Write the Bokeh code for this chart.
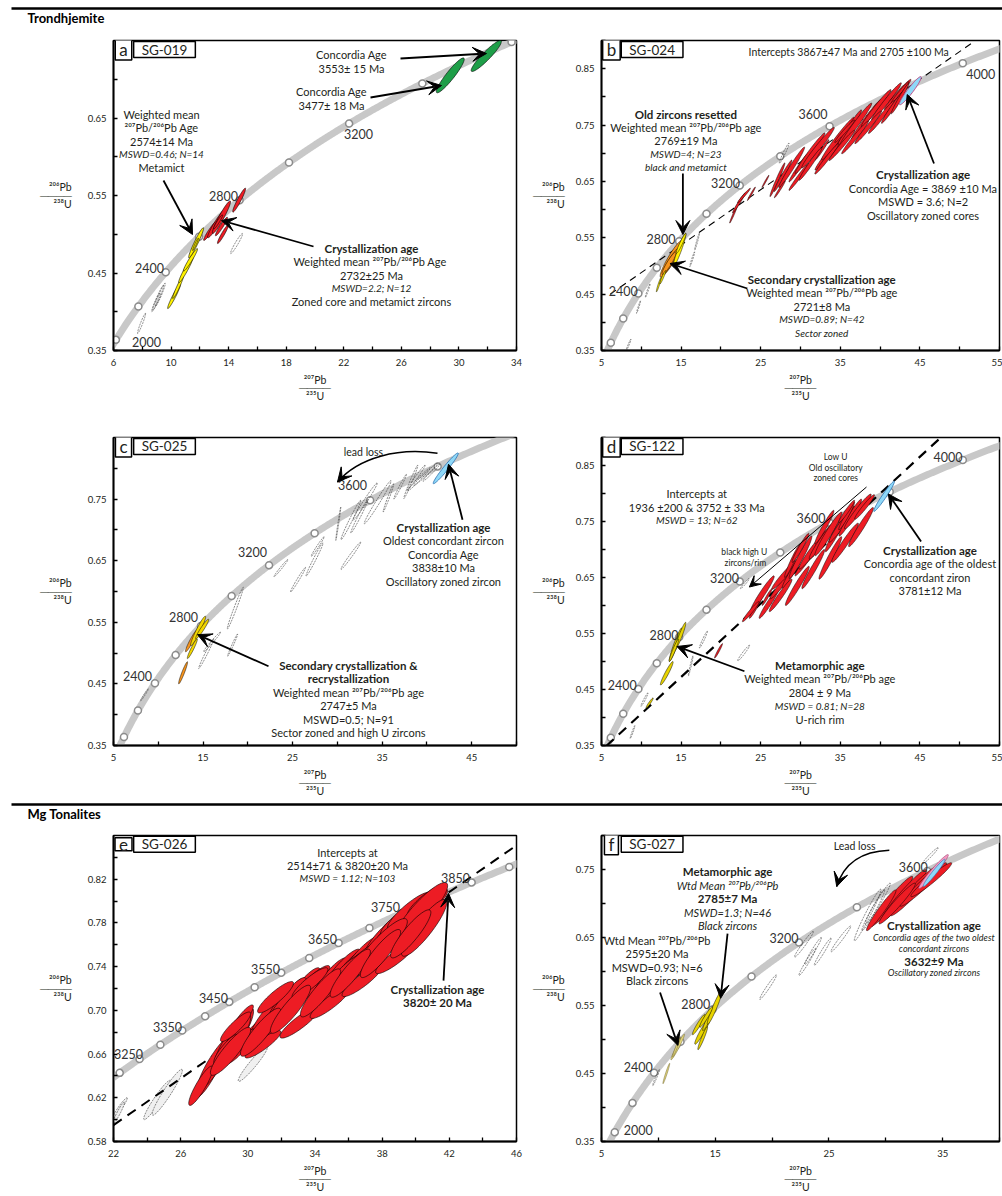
import numpy as np
from bokeh.plotting import figure
from bokeh.layouts import column, row
from bokeh.models import Label, Arrow, VeeHead, Range1d, FixedTicker, PrintfTickFormatter
from bokeh.embed import file_html
from bokeh.resources import INLINE

FONT = "Lato"
TXT = "#231f20"

# U decay constants (1/Ma) used for the concordia reference curve
L238 = 1.55125e-4
L235 = 9.8485e-4

# ---------------- panel a : SG-019 ----------------
A_MARK_AGES = [2000, 2200, 2400, 2600, 2800, 3000, 3200, 3400, 3600]
A_YELLOW = [(10.21, 0.420, 0.45, 0.016), (10.49, 0.432, 0.38, 0.015), (11.05, 0.455, 0.52, 0.0175),
            (11.35, 0.467, 0.49, 0.0145), (11.74, 0.489, 0.52, 0.0195), (11.70, 0.487, 0.20, 0.008)]
A_RED = [(12.75, 0.505, 0.49, 0.013), (13.17, 0.514, 0.63, 0.0185), (13.50, 0.522, 0.63, 0.021),
         (13.50, 0.510, 0.42, 0.012), (13.60, 0.500, 0.38, 0.012), (14.73, 0.544, 0.45, 0.0155),
         (13.27, 0.516, 0.31, 0.009)]
A_GREEN = [(29.4, 0.705, 0.97, 0.0225), (31.9, 0.730, 1.05, 0.020)]
A_GRAY = [(14.55, 0.488, 0.42, 0.013), (9.10, 0.418, 0.38, 0.016), (9.25, 0.422, 0.35, 0.015),
          (8.95, 0.412, 0.30, 0.012), (7.95, 0.385, 0.28, 0.013)]

# ---------------- panel b : SG-024 ----------------
B_MARK_AGES = [2000, 2200, 2400, 2600, 2800, 3000, 3200, 3400, 3600, 3800, 4000]
B_RED = [(21.6, 0.592, 0.50, 0.016), (22.27, 0.612, 0.81, 0.018), (22.9, 0.625, 0.81, 0.013),
         (23.83, 0.628, 0.50, 0.012), (25.6, 0.650, 0.44, 0.011), (27.1, 0.653, 0.94, 0.030),
         (27.8, 0.660, 1.12, 0.028), (28.9, 0.675, 1.62, 0.036), (29.8, 0.675, 1.25, 0.026),
         (31.2, 0.700, 1.87, 0.036), (32.2, 0.710, 2.05, 0.036), (33.7, 0.703, 1.87, 0.033),
         (34.7, 0.726, 2.06, 0.038), (35.8, 0.735, 1.87, 0.042), (36.9, 0.750, 2.05, 0.039),
         (38.3, 0.760, 1.90, 0.036), (39.5, 0.780, 1.87, 0.033), (40.8, 0.792, 1.87, 0.033),
         (42.2, 0.804, 1.68, 0.027), (42.5, 0.808, 1.10, 0.019), (32.7, 0.706, 0.87, 0.018),
         (35.55, 0.739, 1.25, 0.020), (27.4, 0.636, 0.68, 0.015), (29.8, 0.658, 1.25, 0.024),
         (31.25, 0.681, 1.43, 0.029), (33.3, 0.690, 1.50, 0.027), (35.2, 0.714, 1.62, 0.027),
         (36.85, 0.728, 1.68, 0.029), (38.5, 0.746, 1.68, 0.029), (40.15, 0.764, 1.62, 0.029),
         (41.6, 0.782, 1.43, 0.029), (42.5, 0.797, 1.10, 0.027)]
B_ORANGE = [(13.8, 0.513, 1.43, 0.033), (13.8, 0.510, 1.06, 0.023), (13.5, 0.505, 0.90, 0.020)]
B_YELLOW = [(14.8, 0.528, 0.81, 0.030), (12.2, 0.467, 0.31, 0.013), (12.7, 0.480, 0.37, 0.012),
            (15.0, 0.540, 0.62, 0.018)]
B_BLUE = [(43.8, 0.811, 1.37, 0.025)]
B_GRAY = [(17.0, 0.543, 0.30, 0.015), (16.4, 0.512, 0.30, 0.013), (10.8, 0.456, 0.30, 0.012),
          (8.4, 0.360, 0.30, 0.010), (9.65, 0.427, 0.25, 0.011), (27.95, 0.700, 0.62, 0.018)]
B_DISC_X = [6.1, 51.6]
B_DISC_Y = [0.450, 0.896]

# ---------------- panel c : SG-025 ----------------
C_MARK_AGES = [2000, 2200, 2400, 2600, 2800, 3000, 3200, 3400, 3600, 3800]
C_ORANGE = [(12.77, 0.468, 0.50, 0.018), (13.7, 0.520, 0.67, 0.018)]
C_YELLOW = [(14.45, 0.536, 0.84, 0.024), (14.9, 0.539, 0.73, 0.016), (13.8, 0.507, 0.56, 0.016)]
C_BLUE = [(42.1, 0.800, 1.40, 0.025)]
C_GRAY = [(25.6, 0.619, 0.84, 0.020), (27.45, 0.652, 0.95, 0.027), (27.8, 0.673, 0.73, 0.016),
          (30.1, 0.710, 0.28, 0.027), (31.5, 0.658, 1.10, 0.022), (31.5, 0.716, 1.10, 0.032),
          (32.45, 0.722, 0.95, 0.027), (33.1, 0.746, 1.34, 0.030), (34.5, 0.745, 1.50, 0.035),
          (35.7, 0.752, 0.60, 0.023), (37.0, 0.770, 0.70, 0.020), (38.2, 0.778, 0.78, 0.027),
          (38.8, 0.785, 1.00, 0.020), (39.1, 0.782, 1.28, 0.019), (39.85, 0.790, 1.34, 0.018),
          (40.5, 0.793, 0.95, 0.014), (23.7, 0.638, 0.78, 0.014), (18.6, 0.573, 0.90, 0.034),
          (15.35, 0.499, 0.84, 0.024), (18.3, 0.513, 0.56, 0.018), (16.0, 0.518, 0.95, 0.016),
          (8.45, 0.432, 0.45, 0.010)]

# ---------------- panel d : SG-122 ----------------
D_MARK_AGES = [2000, 2200, 2400, 2600, 2800, 3000, 3200, 3400, 3600, 3800, 4000]
D_RED = [(24.5, 0.601, 0.93, 0.024), (25.2, 0.621, 1.50, 0.032), (26.05, 0.604, 1.25, 0.027),
         (27.55, 0.636, 1.37, 0.024), (28.1, 0.656, 1.70, 0.027), (28.95, 0.660, 1.25, 0.029),
         (30.0, 0.686, 1.43, 0.038), (30.55, 0.677, 1.25, 0.024), (31.7, 0.701, 1.90, 0.036),
         (32.7, 0.716, 1.60, 0.033), (33.5, 0.728, 1.70, 0.039), (34.6, 0.734, 1.50, 0.038),
         (35.2, 0.745, 1.62, 0.032), (36.25, 0.757, 1.43, 0.033), (37.2, 0.768, 1.68, 0.031),
         (38.05, 0.776, 1.25, 0.022), (25.8, 0.615, 0.62, 0.015), (23.75, 0.589, 1.05, 0.018),
         (19.7, 0.519, 0.50, 0.013), (29.0, 0.680, 1.00, 0.030), (33.0, 0.740, 1.20, 0.030),
         (35.8, 0.760, 1.00, 0.025), (29.6, 0.635, 1.50, 0.035), (31.6, 0.665, 1.43, 0.035),
         (33.75, 0.685, 1.43, 0.038), (35.6, 0.712, 1.68, 0.035), (37.6, 0.740, 1.56, 0.035),
         (27.5, 0.618, 1.43, 0.029), (30.0, 0.703, 1.06, 0.026), (35.8, 0.768, 1.00, 0.020)]
D_BLUE = [(40.5, 0.795, 1.30, 0.027)]
D_YELLOW = [(14.3, 0.530, 0.80, 0.030), (14.9, 0.545, 0.70, 0.025), (14.1, 0.520, 0.60, 0.020),
            (13.2, 0.479, 0.80, 0.021), (11.05, 0.426, 0.45, 0.009)]
D_GRAY = [(17.8, 0.539, 0.50, 0.015), (16.2, 0.492, 0.30, 0.018), (22.85, 0.515, 0.75, 0.014),
          (23.0, 0.639, 0.55, 0.009), (8.9, 0.374, 0.30, 0.0115), (10.4, 0.432, 0.45, 0.012)]
D_DISC_X = [5.6, 47.4]
D_DISC_Y = [0.349, 0.897]

# ---------------- panel e : SG-026 ----------------
E_MARK_AGES = [3200, 3250, 3300, 3350, 3400, 3450, 3500, 3550, 3600, 3650, 3700, 3750, 3800, 3850, 3900]
E_RED = [(27.7, 0.642, 0.84, 0.022), (28.1, 0.653, 1.07, 0.025), (29.15, 0.674, 1.19, 0.028),
         (29.27, 0.674, 0.90, 0.022), (30.3, 0.679, 0.90, 0.015), (31.0, 0.691, 0.98, 0.021),
         (31.6, 0.693, 0.98, 0.028), (32.3, 0.704, 1.07, 0.025), (32.75, 0.712, 0.80, 0.018),
         (33.2, 0.718, 1.10, 0.021), (33.7, 0.722, 1.19, 0.019), (34.5, 0.720, 0.80, 0.021),
         (34.9, 0.730, 1.00, 0.018), (35.6, 0.737, 1.10, 0.019), (36.3, 0.742, 1.19, 0.018),
         (36.8, 0.750, 1.10, 0.018), (37.5, 0.755, 1.19, 0.019), (38.0, 0.767, 1.10, 0.019),
         (38.7, 0.775, 1.19, 0.018), (39.1, 0.784, 1.19, 0.015), (39.6, 0.791, 1.28, 0.017),
         (40.5, 0.800, 0.98, 0.013), (40.9, 0.796, 1.00, 0.015), (40.3, 0.790, 1.60, 0.027),
         (29.65, 0.692, 0.68, 0.013), (36.7, 0.743, 1.60, 0.022), (37.9, 0.758, 1.60, 0.026),
         (32.2, 0.703, 1.30, 0.027), (28.7, 0.665, 0.72, 0.013), (34.6, 0.718, 0.90, 0.015),
         (35.6, 0.730, 1.28, 0.021), (30.9, 0.669, 1.07, 0.0126), (33.1, 0.689, 1.19, 0.0144),
         (34.9, 0.707, 1.19, 0.0144), (36.8, 0.727, 1.19, 0.0144), (38.8, 0.748, 1.19, 0.0144),
         (40.5, 0.7755, 1.35, 0.026), (29.56, 0.667, 0.90, 0.016), (29.27, 0.685, 0.90, 0.0135),
         (31.65, 0.712, 1.07, 0.0144), (33.7, 0.725, 1.07, 0.014), (27.2, 0.631, 0.72, 0.018),
         (28.97, 0.6625, 1.20, 0.022), (30.76, 0.680, 1.20, 0.022), (32.54, 0.701, 1.20, 0.022),
         (34.33, 0.716, 1.20, 0.022), (36.1, 0.734, 1.20, 0.022), (37.9, 0.752, 1.20, 0.022),
         (39.7, 0.770, 1.20, 0.022)]
E_GRAY = [(22.4, 0.611, 0.42, 0.009), (22.3, 0.606, 0.35, 0.010), (24.6, 0.618, 0.80, 0.018),
          (25.2, 0.625, 0.90, 0.021), (30.3, 0.651, 0.87, 0.016)]
E_DISC_X = [22.0, 46.0]
E_DISC_Y = [0.595, 0.851]

# ---------------- panel f : SG-027 ----------------
F_MARK_AGES = [2000, 2200, 2400, 2600, 2800, 3000, 3200, 3400, 3600]
F_YELLOW = [(13.55, 0.522, 0.56, 0.015), (13.9, 0.513, 0.70, 0.020), (13.9, 0.502, 0.43, 0.017),
            (14.45, 0.532, 0.56, 0.019), (14.95, 0.547, 0.65, 0.025), (14.2, 0.533, 0.57, 0.015)]
F_TAN = [(11.7, 0.489, 0.60, 0.019), (11.6, 0.489, 0.35, 0.015), (10.7, 0.450, 0.30, 0.015)]
F_RED = [(30.5, 0.703, 1.87, 0.037), (31.6, 0.712, 2.00, 0.038), (32.45, 0.718, 2.05, 0.036),
         (33.3, 0.728, 2.05, 0.032), (34.0, 0.735, 1.80, 0.025), (29.6, 0.690, 1.30, 0.030),
         (31.0, 0.700, 1.60, 0.030)]
F_PINK = [(34.2, 0.747, 1.30, 0.025)]
F_BLUE = [(34.25, 0.745, 0.96, 0.020)]
F_GRAY = [(28.4, 0.683, 1.17, 0.038), (28.9, 0.690, 1.00, 0.030), (29.3, 0.700, 1.10, 0.030),
          (22.8, 0.640, 0.83, 0.019), (23.1, 0.614, 0.74, 0.020), (23.6, 0.630, 0.74, 0.020),
          (24.45, 0.629, 0.74, 0.020), (26.05, 0.648, 0.87, 0.019), (19.65, 0.577, 0.74, 0.018),
          (9.8, 0.444, 0.30, 0.012), (33.9, 0.770, 0.70, 0.012)]

Y_LABEL = "²⁰⁶Pb\n────\n²³⁸U"
X_LABEL = "²⁰⁷Pb\n────\n²³⁵U"

RED, YEL, ORA, GRN, BLU, PNK, TAN = "#ed1c24", "#fff200", "#f7941d", "#1e9e48", "#8ed8f8", "#f49ac1", "#e3d67a"

TH = np.linspace(0, 2 * np.pi, 64)


def concordia(t):
    t = np.asarray(t, dtype=float)
    return np.exp(L235 * t) - 1.0, np.exp(L238 * t) - 1.0


def build_panel(width, height, bl, br, bt, bb, page_left, page_top, xr, yr, xmaj, xmin, ymaj, ymin,
                ylab_standoff=13):
    p = figure(width=width, height=height, x_range=Range1d(*xr), y_range=Range1d(*yr),
               output_backend="svg", toolbar_location=None,
               min_border_left=bl, min_border_right=br, min_border_top=bt, min_border_bottom=bb)
    p.grid.visible = False
    p.outline_line_color = "black"
    p.outline_line_width = 1.5
    p.outline_line_alpha = 1.0
    p.background_fill_color = "white"
    p.xaxis.ticker = FixedTicker(ticks=xmaj, minor_ticks=xmin)
    p.yaxis.ticker = FixedTicker(ticks=ymaj, minor_ticks=ymin)
    for ax in (p.xaxis[0], p.yaxis[0]):
        ax.axis_line_width = 1.8
        ax.axis_line_color = "black"
        ax.major_tick_in = 4
        ax.major_tick_out = 0
        ax.minor_tick_in = 4
        ax.minor_tick_out = 0
        ax.major_tick_line_width = 1.3
        ax.minor_tick_line_width = 1.3
        ax.major_tick_line_color = "black"
        ax.minor_tick_line_color = "black"
        ax.major_label_text_font = FONT
        ax.major_label_text_font_size = "9.5px"
        ax.major_label_text_color = TXT
        ax.axis_label_text_font = FONT
        ax.axis_label_text_font_size = "10.5px"
        ax.axis_label_text_font_style = "normal"
        ax.axis_label_text_color = TXT
        ax.axis_label_text_line_height = 0.7
    p.xaxis.formatter = PrintfTickFormatter(format="%d")
    p.yaxis.formatter = PrintfTickFormatter(format="%.2f")
    p.xaxis.major_label_standoff = 8
    p.yaxis.major_label_standoff = 7
    p.yaxis.axis_label = Y_LABEL
    p.yaxis.axis_label_orientation = "horizontal"
    p.yaxis.axis_label_standoff = ylab_standoff
    p.xaxis.axis_label = X_LABEL
    p.xaxis.axis_label_standoff = 5
    fl, ft = page_left + bl, page_top + bt
    fw, fh = width - bl - br, height - bt - bb

    def P(px, py):
        return (xr[0] + (px - fl) / fw * (xr[1] - xr[0]),
                yr[0] + (ft + fh - py) / fh * (yr[1] - yr[0]))
    return p, P, (fl, ft, fw, fh)


def label(p, P, px, py, text, size=11, style="normal", align="center", color=TXT, box=False, pad=None):
    x, y = P(px, py)
    kw = {}
    if box:
        kw = dict(border_line_color="black", border_line_width=1.5, background_fill_color="white",
                  background_fill_alpha=1.0, padding=pad)
    p.add_layout(Label(x=x, y=y, text=text, text_font=FONT, text_font_size=f"{size}px",
                       text_font_style=style, text_align=align, text_baseline="middle",
                       text_color=color, **kw))


def block(p, P, px, py0, lines, dy=13.4):
    for i, ln in enumerate(lines):
        if isinstance(ln, str):
            ln = (ln, "normal", 11)
        elif len(ln) == 2:
            ln = (ln[0], ln[1], 11.5 if ln[1] == "bold" else 11)
        label(p, P, px, py0 + i * dy, ln[0], size=ln[2], style=ln[1])


def arrow(p, P, a, b, lw=1.8, head=14):
    x0, y0 = P(*a)
    x1, y1 = P(*b)
    p.add_layout(Arrow(x_start=x0, y_start=y0, x_end=x1, y_end=y1, line_width=lw, line_color="black",
                       end=VeeHead(size=head, fill_color="black", line_color="black", line_width=1)))


def curved_arrow(p, P, a, c0, c1, b, head=14):
    x0, y0 = P(*a)
    cx0, cy0 = P(*c0)
    cx1, cy1 = P(*c1)
    x1, y1 = P(*b)
    p.bezier(x0=[x0], y0=[y0], x1=[x1], y1=[y1], cx0=[cx0], cy0=[cy0], cx1=[cx1], cy1=[cy1],
             line_color="black", line_width=1.5)
    p.add_layout(Arrow(x_start=cx1, y_start=cy1, x_end=x1, y_end=y1, line_alpha=0.0,
                       end=VeeHead(size=head, fill_color="black", line_color="black", line_width=1)))


def ellipses(p, data, rho, fill, line="black", lw=0.6, dash="solid", falpha=1.0):
    xs, ys = [], []
    s = np.sqrt(1 - rho ** 2)
    for (x, y, sx, sy) in data:
        xs.append(list(x + sx * np.cos(TH)))
        ys.append(list(y + sy * (rho * np.cos(TH) + s * np.sin(TH))))
    p.patches(xs, ys, fill_color=fill, fill_alpha=falpha, line_color=line, line_width=lw, line_dash=dash)


def draw_concordia(p, ages, t0, t1):
    t = np.linspace(t0, t1, 400)
    cx, cy = concordia(t)
    p.line(cx, cy, line_color="#c8c8c8", line_width=7, line_cap="round")
    mx, my = concordia(ages)
    p.scatter(mx, my, marker="circle", size=7, fill_color="white", line_color="#8c8c8c", line_width=1.5)


def gray(p, data, rho=0.97, fill=None, falpha=1.0):
    ellipses(p, data, rho, fill, line="#3a3a3a", lw=0.6, dash="2 1", falpha=falpha)


def id_box(p, P, frame, letter, name):
    fl, ft, fw, fh = frame
    label(p, P, fl + 10, ft + 9, letter, size=17, box=True, pad=dict(x=4, y=0))
    label(p, P, fl + 20 + 31, ft + 9, name, size=13.5, box=True, pad=dict(x=8, y=0))


def age_labels(p, P, items, size=12.5):
    for (px, py, s) in items:
        label(p, P, px, py, s, size=size, color="#333333")


def header(text, height, text_y, line_y):
    h = figure(width=1002, height=height, x_range=Range1d(0, 1002), y_range=Range1d(height, 0),
               output_backend="svg", toolbar_location=None, min_border=0,
               x_axis_location=None, y_axis_location=None)
    h.grid.visible = False
    h.outline_line_color = None
    h.line([11, 1002], [line_y, line_y], line_width=2.6, line_color="black")
    h.add_layout(Label(x=27, y=text_y, text=text, text_font=FONT, text_font_size="13px",
                       text_font_style="bold", text_baseline="middle", text_color="black"))
    return h


# ======================= panel a =======================
pa, Pa, fa = build_panel(530, 378, 113, 14, 8, 60, 0, 32, (6, 34), (0.35, 0.75),
                         [6, 10, 14, 18, 22, 26, 30, 34], [8, 12, 16, 20, 24, 28, 32],
                         [0.35, 0.45, 0.55, 0.65], [0.40, 0.50, 0.60, 0.70], ylab_standoff=13)
draw_concordia(pa, A_MARK_AGES, 1900, 3700)
gray(pa, A_GRAY, 0.96)
ellipses(pa, A_YELLOW, 0.96, YEL)
ellipses(pa, A_RED, 0.95, RED)
ellipses(pa, A_GREEN, 0.93, GRN)
id_box(pa, Pa, fa, "a", "SG-019")
age_labels(pa, Pa, [(146, 341, "2000"), (149, 267, "2400"), (223, 195, "2800"), (358, 133, "3200")])
block(pa, Pa, 351, 54, ["Concordia Age", "3553± 15 Ma"], dy=14)
arrow(pa, Pa, (400, 58), (486, 53))
block(pa, Pa, 331, 91, ["Concordia Age", "3477± 18 Ma"], dy=14)
arrow(pa, Pa, (370, 97), (441, 85))
block(pa, Pa, 161, 114, ["Weighted mean", "²⁰⁷Pb/²⁰⁶Pb Age", "2574±14 Ma",
                         ("MSWD=0.46; N=14", "italic", 10), "Metamict"], dy=13.3)
arrow(pa, Pa, (163, 180), (192, 234))
block(pa, Pa, 371, 248, [("Crystallization age", "bold"), "Weighted mean  ²⁰⁷Pb/²⁰⁶Pb Age",
                         "2732±25 Ma", ("MSWD=2.2; N=12", "italic", 10),
                         "Zoned core and metamict zircons"], dy=13.3)
arrow(pa, Pa, (313, 246), (221, 220))

# ======================= panel b =======================
pb, Pb, fb_ = build_panel(472, 378, 68, 3, 8, 60, 530, 32, (5, 55), (0.35, 0.90),
                          [5, 15, 25, 35, 45, 55], [10, 20, 30, 40, 50],
                          [0.35, 0.45, 0.55, 0.65, 0.75, 0.85], [0.40, 0.50, 0.60, 0.70, 0.80, 0.90],
                          ylab_standoff=8)
draw_concordia(pb, B_MARK_AGES, 1900, 4300)
gray(pb, B_GRAY, 0.97)
pb.line(B_DISC_X, B_DISC_Y, line_color="black", line_width=1.1, line_dash="7 5")
ellipses(pb, B_ORANGE, 0.93, ORA, lw=0.5)
ellipses(pb, B_YELLOW, 0.95, YEL, lw=0.5)
ellipses(pb, B_RED, 0.98, RED, lw=0.5)
ellipses(pb, B_BLUE, 0.95, BLU, line="#c0508a", lw=1.0)
id_box(pb, Pb, fb_, "b", "SG-024")
age_labels(pb, Pb, [(620, 290, "2400"), (658, 238, "2800"), (723, 182, "3200"), (811, 113, "3600"),
                    (980, 73, "4000")])
label(pb, Pb, 847, 51, "Intercepts 3867±47 Ma and 2705 ±100 Ma", size=10.5)
block(pb, Pb, 683, 114, [("Old zircons resetted", "bold"), "Weighted mean ²⁰⁷Pb/²⁰⁶Pb age",
                         "2769±19 Ma", ("MSWD=4; N=23", "italic", 10),
                         ("black and metamict", "italic", 10)], dy=13.2)
arrow(pb, Pb, (680, 173), (680, 234))
block(pb, Pb, 922, 174, [("Crystallization age", "bold"), "Concordia Age = 3869 ±10 Ma",
                         "MSWD = 3.6; N=2", "Oscillatory zoned cores"], dy=13.6)
arrow(pb, Pb, (933, 163), (906, 94))
block(pb, Pb, 820, 279, [("Secondary crystallization age", "bold"), "Weighted mean ²⁰⁷Pb/²⁰⁶Pb age",
                         "2721±8 Ma", ("MSWD=0.89; N=42", "italic", 10),
                         ("Sector zoned", "italic", 10)], dy=13.3)
arrow(pb, Pb, (745, 288), (667, 263))

# ======================= panel c =======================
pc, Pc, fc = build_panel(530, 390, 113, 14, 27, 52, 0, 410, (5, 50), (0.35, 0.85),
                         [5, 15, 25, 35, 45], [10, 20, 30, 40, 50],
                         [0.35, 0.45, 0.55, 0.65, 0.75], [0.40, 0.50, 0.60, 0.70, 0.80], ylab_standoff=13)
draw_concordia(pc, C_MARK_AGES, 1900, 4100)
gray(pc, C_GRAY, 0.985)
ellipses(pc, C_ORANGE, 0.95, ORA, lw=0.5)
ellipses(pc, C_YELLOW, 0.95, "#f2d600", lw=0.5)
ellipses(pc, C_BLUE, 0.97, BLU, line="#2a6fb0", lw=0.8)
id_box(pc, Pc, fc, "c", "SG-025")
age_labels(pc, Pc, [(137, 678, "2400"), (183, 618, "2800"), (252, 553, "3200"), (352, 485, "3600")])
label(pc, Pc, 363, 452, "lead loss", size=10.5)
curved_arrow(pc, Pc, (437, 453), (398, 447), (358, 457), (337, 482))
block(pc, Pc, 443, 528, [("Crystallization age", "bold"), "Oldest concordant zircon", "Concordia Age",
                         "3838±10 Ma", "Oscillatory zoned zircon"], dy=13.5)
arrow(pc, Pc, (462, 520), (448, 464))
block(pc, Pc, 348, 667, [("Secondary crystallization &", "bold"), ("recrystallization", "bold"),
                         "Weighted mean ²⁰⁷Pb/²⁰⁶Pb age", "2747±5 Ma", "MSWD=0.5; N=91",
                         "Sector zoned and high U zircons"], dy=13.6)
arrow(pc, Pc, (268, 668), (197, 636))

# ======================= panel d =======================
pd_, Pd, fd = build_panel(472, 390, 68, 3, 27, 52, 530, 410, (5, 55), (0.35, 0.90),
                          [5, 15, 25, 35, 45, 55], [10, 20, 30, 40, 50],
                          [0.35, 0.45, 0.55, 0.65, 0.75, 0.85], [0.40, 0.50, 0.60, 0.70, 0.80, 0.90],
                          ylab_standoff=8)
draw_concordia(pd_, D_MARK_AGES, 1900, 4300)
gray(pd_, D_GRAY, 0.97)
pd_.line(D_DISC_X, D_DISC_Y, line_color="black", line_width=2.2, line_dash="10 7")
ellipses(pd_, D_YELLOW, 0.95, "#e8d400", lw=0.5)
ellipses(pd_, D_RED, 0.965, RED, lw=0.5)
ellipses(pd_, D_BLUE, 0.97, BLU, line="#2a6fb0", lw=0.8)
id_box(pd_, Pd, fd, "d", "SG-122")
age_labels(pd_, Pd, [(619, 687, "2400"), (661, 636, "2800"), (722, 579, "3200"), (809, 518, "3600"),
                     (947, 457, "4000")])
block(pd_, Pd, 834, 457, [("Low U", "normal", 8.5), ("Old oscillatory", "normal", 8.5),
                          ("zoned cores", "normal", 8.5)], dy=10.3)
block(pd_, Pd, 694, 494, ["Intercepts at", "1936 ±200 & 3752 ± 33 Ma", ("MSWD = 13; N=62", "italic", 10)],
      dy=13.3)
block(pd_, Pd, 743, 553, [("black  high U", "normal", 8.5), ("zircons/rim", "normal", 8.5)], dy=10.3)
arrow(pd_, Pd, (865, 487), (747, 588), lw=1.0, head=11)
block(pd_, Pd, 929, 551, [("Crystallization age", "bold"), "Concordia age of the oldest",
                          "concordant ziron", "3781±12 Ma"], dy=13.6)
arrow(pd_, Pd, (920, 542), (887, 494))
block(pd_, Pd, 818, 667, [("Metamorphic age", "bold"), "Weighted mean ²⁰⁷Pb/²⁰⁶Pb age", "2804 ± 9 Ma",
                          ("MSWD = 0.81; N=28", "italic", 10), "U-rich rim"], dy=13.6)
arrow(pd_, Pd, (742, 673), (674, 648))

# ======================= panel e =======================
pe, Pe, fe = build_panel(530, 368, 113, 14, 7, 49, 0, 828, (22, 46), (0.58, 0.86),
                         [22, 26, 30, 34, 38, 42, 46], [24, 28, 32, 36, 40, 44],
                         [0.58, 0.62, 0.66, 0.70, 0.74, 0.78, 0.82], [0.60, 0.64, 0.68, 0.72, 0.76, 0.80, 0.84],
                         ylab_standoff=13)
draw_concordia(pe, E_MARK_AGES, 3100, 4000)
gray(pe, E_GRAY, 0.95, fill="#f0f0f0")
pe.line(E_DISC_X, E_DISC_Y, line_color="black", line_width=2.0, line_dash="10 7")
ellipses(pe, E_RED, 0.89, RED, lw=0.6)
id_box(pe, Pe, fe, "e", "SG-026")
age_labels(pe, Pe, [(128, 1058, "3250"), (167, 1030, "3350"), (213, 1001, "3450"), (265, 971, "3550"),
                    (322, 941, "3650"), (385, 908, "3750"), (455, 878, "3850")])
block(pe, Pe, 347, 852, ["Intercepts at", "2514±71 & 3820±20 Ma", ("MSWD = 1.12; N=103", "italic", 10)],
      dy=13.3)
block(pe, Pe, 437, 992, [("Crystallization age", "bold"), ("3820± 20 Ma", "bold")], dy=13.5)
arrow(pe, Pe, (443, 983), (448, 894))

# ======================= panel f =======================
pf, Pf, ff = build_panel(472, 368, 68, 3, 7, 49, 530, 828, (5, 40), (0.35, 0.80),
                         [5, 15, 25, 35], [10, 20, 30, 40],
                         [0.35, 0.45, 0.55, 0.65, 0.75], [0.40, 0.50, 0.60, 0.70, 0.80], ylab_standoff=8)
draw_concordia(pf, F_MARK_AGES, 1900, 4000)
gray(pf, F_GRAY, 0.975)
ellipses(pf, F_TAN, 0.97, TAN, line="#6a6030", lw=0.5)
ellipses(pf, F_YELLOW, 0.95, "#e8d400", lw=0.5)
ellipses(pf, F_RED, 0.965, RED, lw=0.5)
ellipses(pf, F_PINK, 0.97, PNK, line="#a04070", lw=0.6)
ellipses(pf, F_BLUE, 0.97, BLU, line="#2a6fb0", lw=0.6)
id_box(pf, Pf, ff, "f", "SG-027")
age_labels(pf, Pf, [(635, 1135, "2000"), (635, 1071, "2400"), (693, 1007, "2800"), (782, 940, "3200"),
                    (912, 867, "3600")])
label(pf, Pf, 853, 846, "Lead loss", size=10.5)
curved_arrow(pf, Pf, (888, 850), (860, 851), (842, 864), (835, 887))
block(pf, Pf, 725, 872, [("Metamorphic age", "bold"), ("Wtd Mean ²⁰⁷Pb/²⁰⁶Pb", "italic"),
                         ("2785±7 Ma", "bold"), ("MSWD=1.3; N=46", "italic"), ("Black zircons", "italic")],
      dy=13.7)
arrow(pf, Pf, (725, 935), (718, 1001))
block(pf, Pf, 654, 942, ["Wtd Mean ²⁰⁷Pb/²⁰⁶Pb", "2595±20 Ma", "MSWD=0.93; N=6", "Black zircons"], dy=13.7)
arrow(pf, Pf, (657, 995), (675, 1049))
label(pf, Pf, 933, 927, "Crystallization age", size=11.5, style="bold")
label(pf, Pf, 933, 938.5, "Concordia ages of the two oldest", size=9, style="italic")
label(pf, Pf, 933, 950, "concordant zircons", size=9, style="italic")
label(pf, Pf, 933, 963, "3632±9 Ma", size=11.5, style="bold")
label(pf, Pf, 933, 975, "Oscillatory zoned zircons", size=9, style="italic")

h1 = header("Trondhjemite", 32, 17, 8)
h2 = header("Mg Tonalites", 28, 13, 4)

layout = column(h1, row(pa, pb), row(pc, pd_), h2, row(pe, pf))

open("out.html", "w").write(file_html(layout, INLINE))
